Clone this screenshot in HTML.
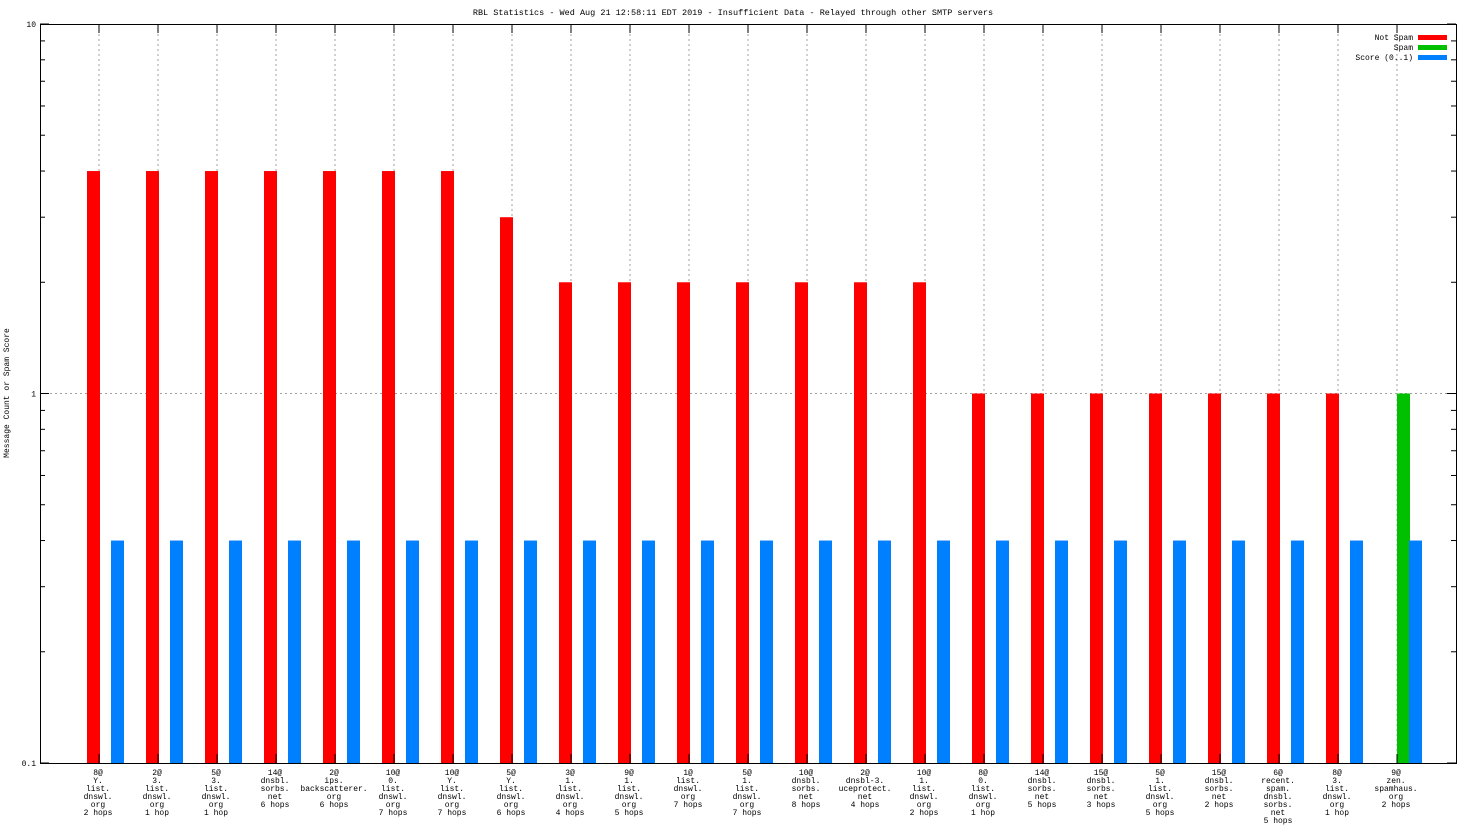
<!DOCTYPE html>
<html><head><meta charset="utf-8"><style>
html,body{margin:0;padding:0;background:#fff;}
svg{display:block;font-family:"Liberation Mono",monospace;}
</style></head><body>
<svg id="chart" width="1472" height="828" xmlns="http://www.w3.org/2000/svg">
<text x="733" y="15" font-size="8.5" text-anchor="middle">RBL Statistics - Wed Aug 21 12:58:11 EDT 2019 - Insufficient Data - Relayed through other SMTP servers</text>
<text transform="translate(9,393) rotate(-90)" font-size="8" text-anchor="middle">Message Count or Spam Score</text>
<g id="grid"></g><g id="bars"></g><g id="axes"></g><g id="labels"></g>
<g>
<text x="1413" y="40" font-size="8" text-anchor="end">Not Spam</text>
<rect x="1418" y="35" width="29" height="5" fill="#ff0000"/>
<text x="1413" y="50" font-size="8" text-anchor="end">Spam</text>
<rect x="1418" y="45" width="29" height="5" fill="#00c000"/>
<text x="1413" y="60" font-size="8" text-anchor="end">Score (0..1)</text>
<rect x="1418" y="55" width="29" height="5" fill="#0080ff"/>
</g>
</svg>
<script>
const categories = [
"8@|Y.|list.|dnswl.|org|2 hops","2@|3.|list.|dnswl.|org|1 hop","5@|3.|list.|dnswl.|org|1 hop","14@|dnsbl.|sorbs.|net|6 hops","2@|ips.|backscatterer.|org|6 hops","10@|0.|list.|dnswl.|org|7 hops","10@|Y.|list.|dnswl.|org|7 hops","5@|Y.|list.|dnswl.|org|6 hops","3@|1.|list.|dnswl.|org|4 hops","9@|1.|list.|dnswl.|org|5 hops","1@|list.|dnswl.|org|7 hops","5@|1.|list.|dnswl.|org|7 hops","10@|dnsbl.|sorbs.|net|8 hops","2@|dnsbl-3.|uceprotect.|net|4 hops","10@|1.|list.|dnswl.|org|2 hops","8@|0.|list.|dnswl.|org|1 hop","14@|dnsbl.|sorbs.|net|5 hops","15@|dnsbl.|sorbs.|net|3 hops","5@|1.|list.|dnswl.|org|5 hops","15@|dnsbl.|sorbs.|net|2 hops","6@|recent.|spam.|dnsbl.|sorbs.|net|5 hops","8@|3.|list.|dnswl.|org|1 hop","9@|zen.|spamhaus.|org|2 hops"];
const notSpam = [4,4,4,4,4,4,4,3,2,2,2,2,2,2,2,1,1,1,1,1,1,1,0];
const spam = [0,0,0,0,0,0,0,0,0,0,0,0,0,0,0,0,0,0,0,0,0,0,1];
const score = [0.4,0.4,0.4,0.4,0.4,0.4,0.4,0.4,0.4,0.4,0.4,0.4,0.4,0.4,0.4,0.4,0.4,0.4,0.4,0.4,0.4,0.4,0.4];
const yTicks = [0.1,1,10];
const yTickLabels = ["0.1","1","10"];

const L=40,R=1456,T=24,B=763;
const NS="http://www.w3.org/2000/svg";
function y(v){return B-(Math.log10(v)+1)/2*(B-T);}
function xc(i){return 99+i*59;}
function mk(tag,attrs,parent){const e=document.createElementNS(NS,tag);for(const k in attrs)e.setAttribute(k,attrs[k]);document.getElementById(parent).appendChild(e);return e;}

// grid
categories.forEach((c,i)=>{
  const g=mk('line',{x1:xc(i),x2:xc(i),y1:T,y2:B,stroke:'#a0a0a0','stroke-dasharray':'2,3','stroke-width':1},'grid');
  
  
});
const gl=mk('line',{x1:L,x2:R,y1:y(1),y2:y(1),stroke:'#a0a0a0','stroke-dasharray':'2,3'},'grid');



// bars
categories.forEach((c,i)=>{
  const cx=xc(i);
  if(notSpam[i]>0){const r=mk('rect',{x:cx-12,y:y(notSpam[i]),width:13,height:B-y(notSpam[i]),fill:'#ff0000'},'bars');
    
    }
  if(spam[i]>0){const r=mk('rect',{x:cx,y:y(spam[i]),width:13,height:B-y(spam[i]),fill:'#00c000'},'bars');
    
    }
  if(score[i]>0){const r=mk('rect',{x:cx+12,y:y(score[i]),width:13,height:B-y(score[i]),fill:'#0080ff'},'bars');
    
    }
});

// axes
const fr=mk('rect',{x:L+0.5,y:T+0.5,width:R-L,height:B-T,fill:'none',stroke:'#000','stroke-width':1},'axes');


yTicks.forEach((v,k)=>{
  const t=mk('text',{x:L-4,y:y(v)+3,'font-size':8,'text-anchor':'end'},'axes');
  t.textContent=yTickLabels[k];
  
  
  [L,R].forEach(xx=>{const d=xx===L?1:-1;const m=mk('line',{x1:xx,x2:xx+d*9,y1:y(v),y2:y(v),stroke:'#000'},'axes');
    
    });
  if(v<10)for(let m=2;m<=9;m++){const vv=v*m;[L,R].forEach(xx=>{const d=xx===L?1:-1;const ln=mk('line',{x1:xx,x2:xx+d*5,y1:y(vv),y2:y(vv),stroke:'#000'},'axes');
    
    });}
});
categories.forEach((c,i)=>{
  [[B,-9],[T,9]].forEach(([yy,d])=>{const m=mk('line',{x1:xc(i),x2:xc(i),y1:yy,y2:yy+d,stroke:'#000'},'axes');
    
    });
  const t=mk('text',{x:xc(i)-1,'font-size':8,'text-anchor':'middle'},'labels');
  
  
  c.split('|').forEach((s,j)=>{const ts=document.createElementNS(NS,'tspan');ts.setAttribute('x',xc(i)-1);ts.setAttribute('y',775+j*8);ts.textContent=s;t.appendChild(ts);});
});
</script>
</body></html>
